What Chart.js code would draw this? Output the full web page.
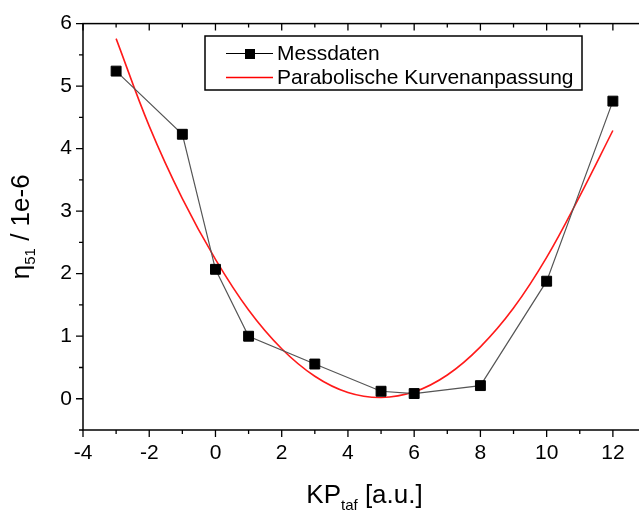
<!DOCTYPE html>
<html>
<head>
<meta charset="utf-8">
<script src="https://cdn.jsdelivr.net/npm/chart.js@4"></script>
<style>
  html, body { margin: 0; padding: 0; background: #fff; overflow: hidden; }
  #wrap { position: absolute; left: 0; top: 0; width: 660px; height: 510px; }
</style>
</head>
<body>
<div id="wrap"><canvas id="chart" width="660" height="510"></canvas></div>
<script>
// Messdaten
const messX = [-3, -1, 0, 1, 3, 5, 6, 8, 10, 12];
const messY = [5.24, 4.23, 2.07, 1.0, 0.555, 0.12, 0.083, 0.21, 1.88, 4.76];

// parabolic fit
const fitX = [-3, -2, -1, 0, 1, 2, 3, 4, 5, 6, 7, 8, 9, 10, 11, 12];
const fitY = [5.76, 4.36, 3.2, 2.23, 1.42, 0.8, 0.36, 0.1, 0.02, 0.11, 0.38, 0.83, 1.45, 2.26, 3.24, 4.29];

const xTicks = [-4, -2, 0, 2, 4, 6, 8, 10, 12];
const yTicks = [0, 1, 2, 3, 4, 5, 6];

const FONT = '"Liberation Sans", Arial, sans-serif';

// draws text with a subscript part, starting at x (in current transform)
function subText(ctx, x, y, main, sub, rest, size, subSize, drop) {
    ctx.font = size + 'px ' + FONT;
    ctx.fillText(main, x, y);
    x += ctx.measureText(main).width;
    ctx.font = subSize + 'px ' + FONT;
    ctx.fillText(sub, x, y + drop);
    x += ctx.measureText(sub).width;
    ctx.font = size + 'px ' + FONT;
    ctx.fillText(rest, x, y);
}
function subWidth(ctx, main, sub, rest, size, subSize) {
    ctx.font = size + 'px ' + FONT;
    let w = ctx.measureText(main + rest).width;
    ctx.font = subSize + 'px ' + FONT;
    return w + ctx.measureText(sub).width;
}

// ticks on all four sides (major + minor) and axis titles
const frameTicks = {
    id: 'frameTicks',
    afterDraw(chart) {
        const ctx = chart.ctx;
        const a = chart.chartArea;
        const xs = chart.scales.x, ys = chart.scales.y;
        ctx.save();
        ctx.strokeStyle = '#000';
        ctx.lineWidth = 1.5;
        ctx.strokeRect(a.left, a.top, a.right - a.left, a.bottom - a.top);
        ctx.lineWidth = 1.3;
        ctx.beginPath();
        for (let v = -4; v <= 13; v += 1) {
            const px = xs.getPixelForValue(v);
            const len = v % 2 === 0 ? 7 : 4;
            ctx.moveTo(px, a.bottom); ctx.lineTo(px, a.bottom + len);
            ctx.moveTo(px, a.top); ctx.lineTo(px, a.top + len);
        }
        for (let v = -0.5; v <= 6; v += 0.5) {
            const py = ys.getPixelForValue(v);
            const len = Number.isInteger(v) ? 7 : 4;
            ctx.moveTo(a.left, py); ctx.lineTo(a.left - len, py);
            ctx.moveTo(a.right, py); ctx.lineTo(a.right - len, py);
        }
        ctx.stroke();

        ctx.fillStyle = '#000';
        ctx.textBaseline = 'alphabetic';
        ctx.textAlign = 'left';
        const wx = subWidth(ctx, 'KP', 'taf', ' [a.u.]', 26, 15);
        subText(ctx, (a.left + a.right) / 2 - wx / 2, 503, 'KP', 'taf', ' [a.u.]', 26, 15, 7);

        ctx.translate(29, (a.top + a.bottom) / 2);
        ctx.rotate(-Math.PI / 2);
        const wy = subWidth(ctx, '\u03b7', '51', ' / 1e-6', 26, 15);
        subText(ctx, -wy / 2, 0, '\u03b7', '51', ' / 1e-6', 26, 15, 6);
        ctx.restore();
    }
};

// legend box like the original
const boxLegend = {
    id: 'boxLegend',
    afterDraw(chart) {
        const ctx = chart.ctx;
        ctx.save();
        ctx.fillStyle = '#fff';
        ctx.fillRect(205, 36, 377, 54);
        ctx.strokeStyle = '#000';
        ctx.lineWidth = 1.5;
        ctx.strokeRect(205, 36, 377, 54);
        ctx.lineWidth = 1.2;
        ctx.strokeStyle = '#000';
        ctx.beginPath(); ctx.moveTo(226, 53.5); ctx.lineTo(273, 53.5); ctx.stroke();
        ctx.fillStyle = '#000';
        ctx.fillRect(245, 49, 10, 10);
        ctx.strokeStyle = '#ff0000';
        ctx.lineWidth = 1.5;
        ctx.beginPath(); ctx.moveTo(226, 77.5); ctx.lineTo(273, 77.5); ctx.stroke();
        ctx.font = '21px ' + FONT;
        ctx.textBaseline = 'middle';
        ctx.fillStyle = '#000';
        ctx.fillText(chart.data.datasets[0].label, 277, 54);
        ctx.fillText(chart.data.datasets[1].label, 277, 78);
        ctx.restore();
    }
};

new Chart(document.getElementById('chart'), {
    type: 'scatter',
    data: {
        datasets: [{
            label: 'Messdaten',
            data: messX.map((x, i) => ({ x: x, y: messY[i] })),
            showLine: true,
            borderColor: '#555',
            borderWidth: 1.2,
            pointStyle: 'rect',
            pointRadius: 7,
            pointBackgroundColor: '#000',
            pointBorderColor: '#000',
            pointBorderWidth: 1,
            order: 1
        }, {
            label: 'Parabolische Kurvenanpassung',
            data: fitX.map((x, i) => ({ x: x, y: fitY[i] })),
            showLine: true,
            borderColor: '#ff1a1a',
            borderWidth: 1.6,
            pointRadius: 0,
            tension: 0.4,
            order: 2
        }]
    },
    options: {
        responsive: false,
        animation: false,
        layout: { padding: { top: 18, right: 14, left: 0, bottom: 0 } },
        plugins: { legend: { display: false }, tooltip: { enabled: false } },
        scales: {
            x: {
                type: 'linear',
                min: -4, max: 13,
                afterFit: s => { s.height = 80; },
                afterBuildTicks: s => { s.ticks = xTicks.map(v => ({ value: v })); },
                grid: { display: false, drawTicks: false },
                border: { display: false },
                ticks: { color: '#000', padding: 11, font: { family: FONT, size: 21 } }
            },
            y: {
                type: 'linear',
                min: -0.5, max: 6,
                afterFit: s => { s.width = 83; },
                afterBuildTicks: s => { s.ticks = yTicks.map(v => ({ value: v })); },
                grid: { display: false, drawTicks: false },
                border: { display: false },
                ticks: { color: '#000', padding: 11, font: { family: FONT, size: 21 } }
            }
        }
    },
    plugins: [frameTicks, boxLegend]
});
</script>
</body>
</html>
